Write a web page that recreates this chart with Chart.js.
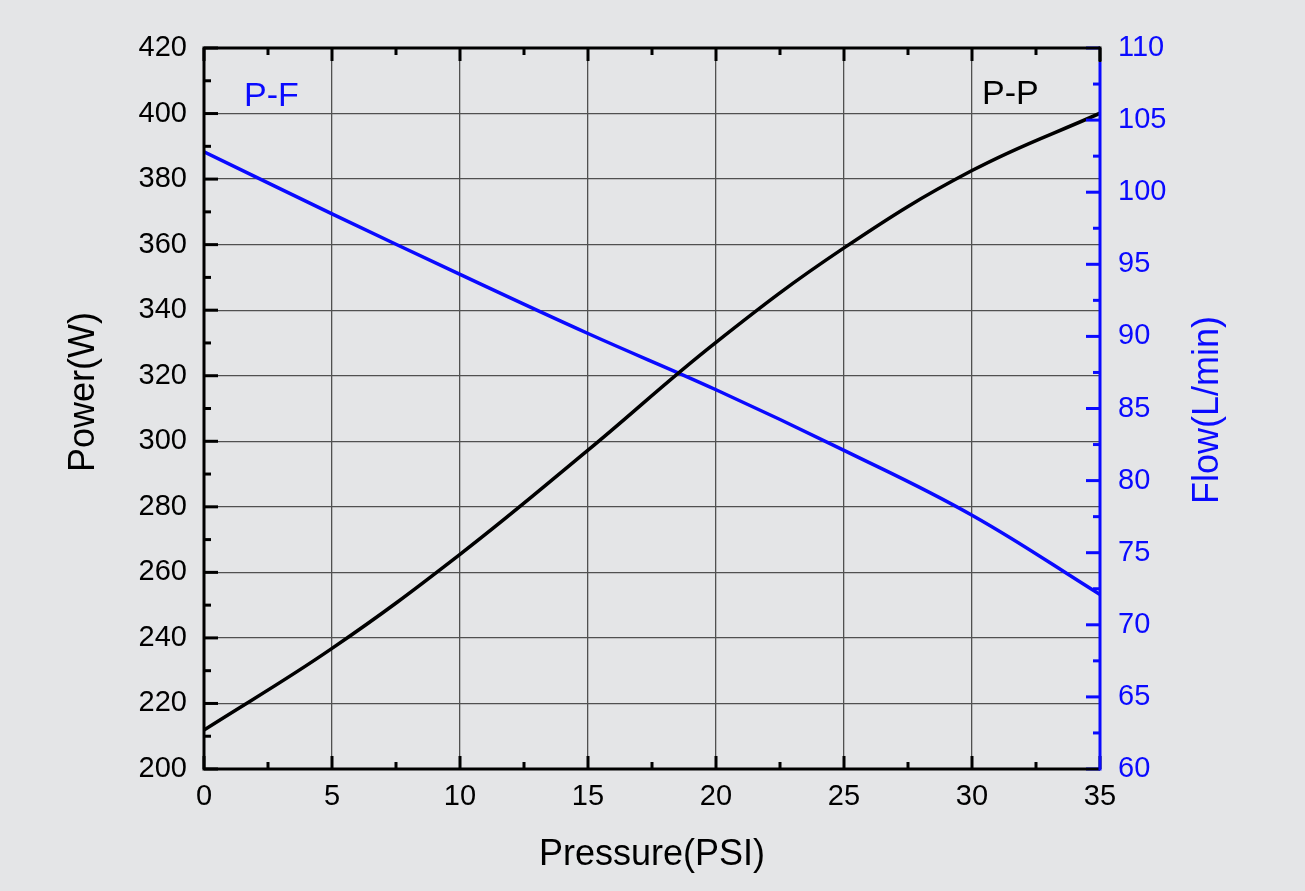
<!DOCTYPE html>
<html>
<head>
<meta charset="utf-8">
<script src="https://cdn.jsdelivr.net/npm/chart.js@4.4.1/dist/chart.umd.min.js"></script>
<style>
  html, body { margin: 0; padding: 0; background: #e4e5e7; }
  #wrap { width: 1305px; height: 891px; }
</style>
</head>
<body>
<div id="wrap"><canvas id="chart"></canvas></div>
<script>
// values
var pressure = [0, 5, 10, 15, 20, 25, 30, 35]
var power = [211.9, 236.8, 265.5, 297.3, 330.2, 359.0, 382.6, 400.1]
var flow = [102.8, 98.5, 94.3, 90.2, 86.3, 82.1, 77.6, 72.1]

var xMinor = [2.5, 7.5, 12.5, 17.5, 22.5, 27.5, 32.5]
var powerMinor = [210, 230, 250, 270, 290, 310, 330, 350, 370, 390, 410]
var flowMinor = [62.5, 67.5, 72.5, 77.5, 82.5, 87.5, 92.5, 97.5, 102.5, 107.5]

var BLUE = "#0a0aff"
var FONT = "'Liberation Sans', Arial, sans-serif"

function pts(xs, ys) {
  return xs.map(function (x, i) { return { x: x, y: ys[i] } })
}

// inward ticks, frame and text labels
var framePlugin = {
  id: "frame",
  afterDraw: function (chart) {
    var ctx = chart.ctx
    var a = chart.chartArea
    var sx = chart.scales.x, sy = chart.scales.y, sy1 = chart.scales.y1
    ctx.save()
    ctx.lineCap = "butt"

    function tick(x1, y1, x2, y2, color) {
      ctx.strokeStyle = color
      ctx.lineWidth = 3
      ctx.beginPath()
      ctx.moveTo(x1, y1)
      ctx.lineTo(x2, y2)
      ctx.stroke()
    }

    sx.ticks.forEach(function (t) {
      var px = sx.getPixelForValue(t.value)
      tick(px, a.bottom, px, a.bottom - 13, "#000")
      tick(px, a.top, px, a.top + 13, "#000")
    })
    xMinor.forEach(function (v) {
      var px = sx.getPixelForValue(v)
      tick(px, a.bottom, px, a.bottom - 7, "#000")
      tick(px, a.top, px, a.top + 7, "#000")
    })
    sy.ticks.forEach(function (t) {
      var py = sy.getPixelForValue(t.value)
      tick(a.left, py, a.left + 14, py, "#000")
    })
    powerMinor.forEach(function (v) {
      var py = sy.getPixelForValue(v)
      tick(a.left, py, a.left + 7, py, "#000")
    })
    sy1.ticks.forEach(function (t) {
      var py = sy1.getPixelForValue(t.value)
      tick(a.right, py, a.right - 14, py, BLUE)
    })
    flowMinor.forEach(function (v) {
      var py = sy1.getPixelForValue(v)
      tick(a.right, py, a.right - 7, py, BLUE)
    })

    // frame
    ctx.lineWidth = 3
    ctx.strokeStyle = "#000"
    ctx.beginPath()
    ctx.moveTo(a.right, a.top)
    ctx.lineTo(a.left, a.top)
    ctx.lineTo(a.left, a.bottom)
    ctx.lineTo(a.right, a.bottom)
    ctx.stroke()
    ctx.strokeStyle = BLUE
    ctx.beginPath()
    ctx.moveTo(a.right, a.top + 14)
    ctx.lineTo(a.right, a.bottom + 1.5)
    ctx.stroke()
    ctx.strokeStyle = "#000"
    ctx.beginPath()
    ctx.moveTo(a.right, a.top - 1.5)
    ctx.lineTo(a.right, a.top + 14)
    ctx.stroke()

    // axis titles
    ctx.font = "36px " + FONT
    ctx.textAlign = "center"
    ctx.textBaseline = "middle"
    ctx.fillStyle = "#000"
    ctx.fillText("Pressure(PSI)", 652, 855)
    ctx.save()
    ctx.translate(84, 392)
    ctx.rotate(-Math.PI / 2)
    ctx.fillText("Power(W)", 0, 0)
    ctx.restore()
    ctx.save()
    ctx.fillStyle = BLUE
    ctx.translate(1208, 410)
    ctx.rotate(-Math.PI / 2)
    ctx.fillText("Flow(L/min)", 0, 0)
    ctx.restore()

    // series labels
    ctx.textAlign = "left"
    ctx.textBaseline = "alphabetic"
    ctx.font = "34px " + FONT
    ctx.fillStyle = BLUE
    ctx.fillText("P-F", 244, 106)
    ctx.fillStyle = "#000"
    ctx.fillText("P-P", 982, 104)
    ctx.restore()
  }
}

new Chart(document.getElementById("chart"), {
  type: "line",
  data: {
    datasets: [
      {
        label: "P-P",
        data: pts(pressure, power),
        yAxisID: "y",
        borderColor: "#000",
        borderWidth: 3.5,
        pointRadius: 0,
        tension: 0.4,
      },
      {
        label: "P-F",
        data: pts(pressure, flow),
        yAxisID: "y1",
        borderColor: BLUE,
        borderWidth: 3.5,
        pointRadius: 0,
        tension: 0.4,
      },
    ],
  },
  options: {
    responsive: true,
    maintainAspectRatio: false,
    animation: false,
    layout: { padding: { top: 48, left: 0, right: 0, bottom: 0 } },
    plugins: {
      legend: { display: false },
      tooltip: { enabled: false },
    },
    scales: {
      x: {
        type: "linear",
        min: 0,
        max: 35,
        ticks: { stepSize: 5, padding: 11, color: "#000", font: { size: 29, family: FONT } },
        grid: { color: "#505050", lineWidth: 1.3, drawTicks: false },
        border: { display: false },
        afterFit: function (s) { s.height = 122 },
      },
      y: {
        position: "left",
        min: 200,
        max: 420,
        ticks: { stepSize: 20, padding: 17, color: "#000", font: { size: 29, family: FONT } },
        grid: { color: "#505050", lineWidth: 1.3, drawTicks: false },
        border: { display: false },
        afterFit: function (s) { s.width = 204 },
      },
      y1: {
        position: "right",
        min: 60,
        max: 110,
        ticks: { stepSize: 5, padding: 18, color: BLUE, font: { size: 29, family: FONT } },
        grid: { display: false, drawTicks: false },
        border: { display: false },
        afterFit: function (s) { s.width = 205 },
      },
    },
  },
  plugins: [framePlugin],
})
</script>
</body>
</html>
